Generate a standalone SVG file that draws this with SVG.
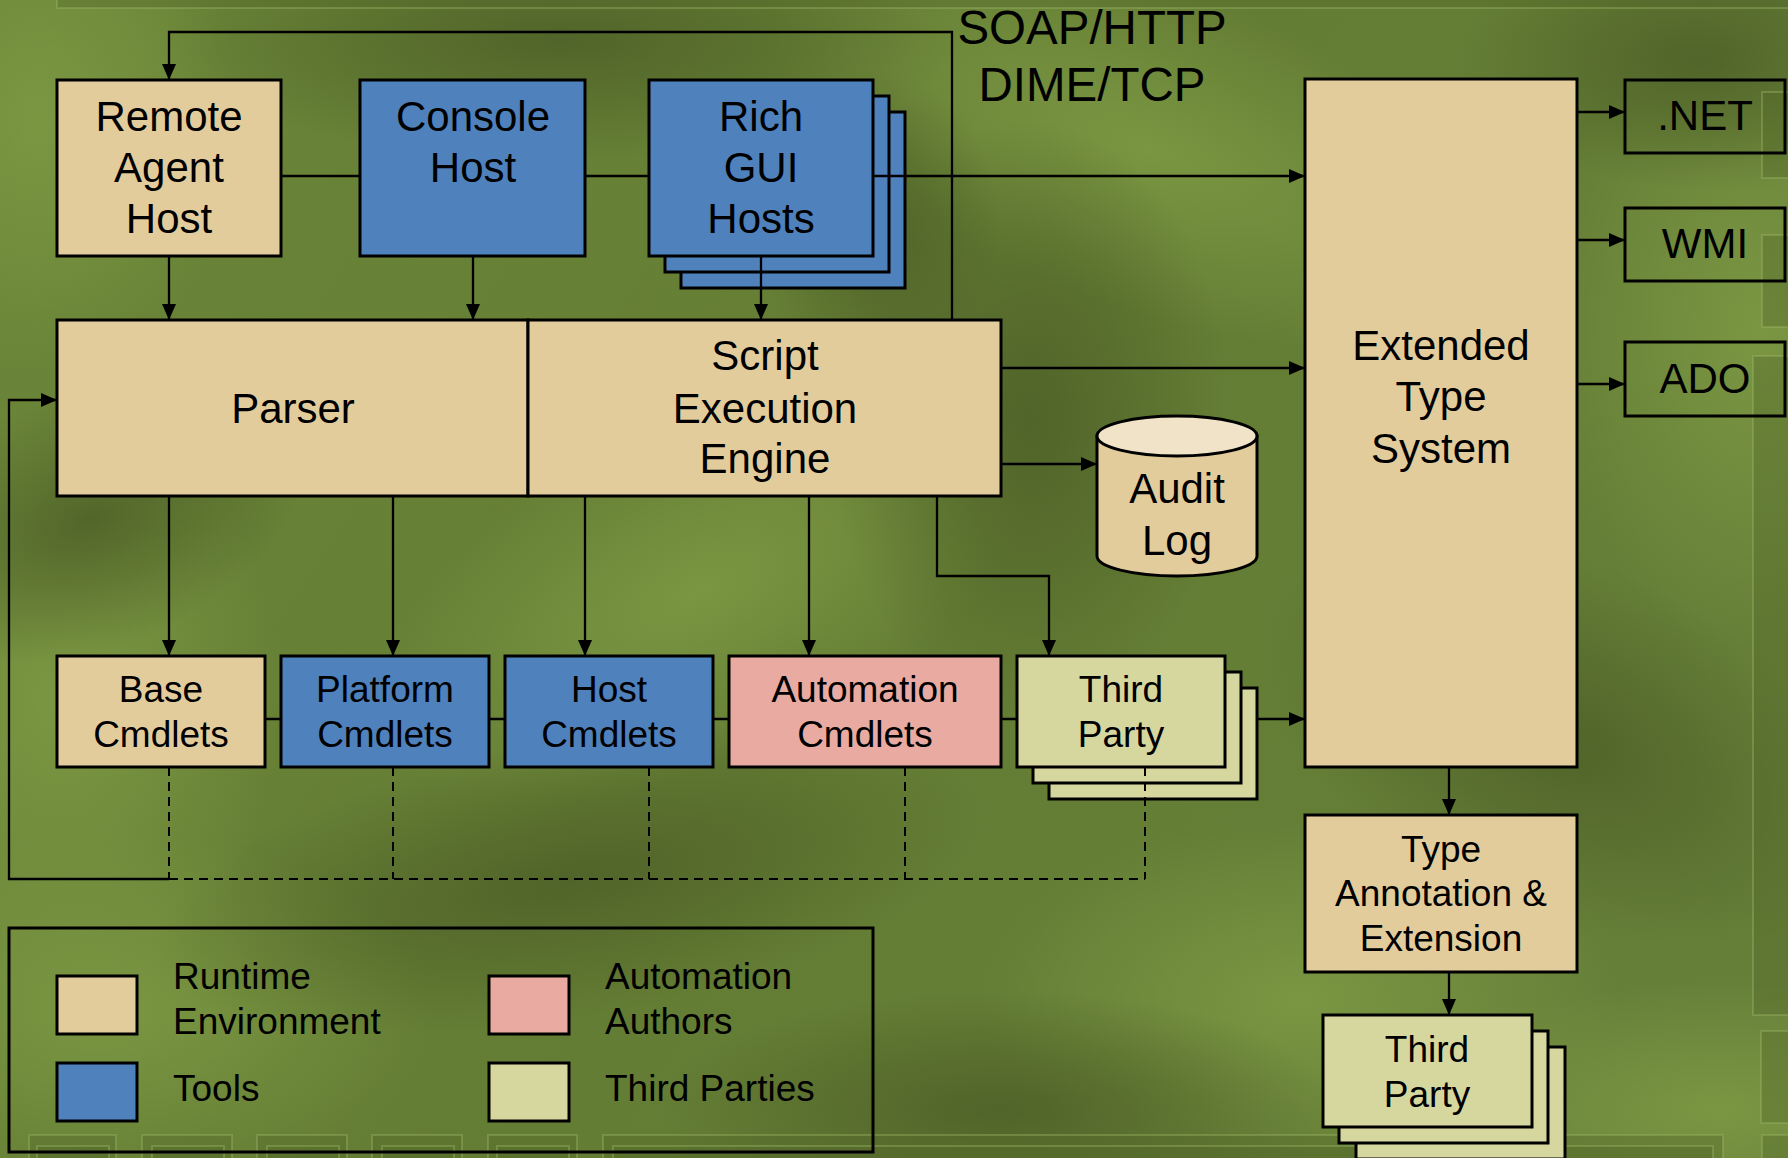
<svg xmlns="http://www.w3.org/2000/svg" width="1788" height="1158" viewBox="0 0 1788 1158">
<defs>
<style>
.bx{stroke:#000;stroke-width:3}
.tan{fill:#E3CC9C}
.blue{fill:#4F81BD}
.pink{fill:#E8AAA1}
.tp{fill:#D6D79F}
.ol{fill:none;stroke:#000;stroke-width:3}
.t42{font-family:"Liberation Sans",Arial,sans-serif;font-size:42px;text-anchor:middle;fill:#000}
.t37{font-family:"Liberation Sans",Arial,sans-serif;font-size:37px;text-anchor:middle;fill:#000}
.l37{font-family:"Liberation Sans",Arial,sans-serif;font-size:37px;fill:#000}
.t47{font-family:"Liberation Sans",Arial,sans-serif;font-size:47.5px;text-anchor:middle;fill:#000}
.ln{fill:none;stroke:#000;stroke-width:2.3}
.dsh{fill:none;stroke:#000;stroke-width:2;stroke-dasharray:9 6}
.deco{fill:#55692b;fill-opacity:0.4;stroke:#9bb565;stroke-opacity:0.4;stroke-width:2}
</style>
<linearGradient id="base" gradientUnits="userSpaceOnUse" x1="0" y1="0" x2="1788" y2="1158">
<stop offset="0" stop-color="#6A8538"/>
<stop offset="0.5" stop-color="#647D34"/>
<stop offset="1" stop-color="#66803A"/>
</linearGradient>
<radialGradient id="lg"><stop offset="0" stop-color="#7E9A44" stop-opacity="0.85"/><stop offset="0.5" stop-color="#7E9A44" stop-opacity="0.45"/><stop offset="1" stop-color="#7E9A44" stop-opacity="0"/></radialGradient>
<radialGradient id="dg"><stop offset="0" stop-color="#4D5F27" stop-opacity="0.85"/><stop offset="0.5" stop-color="#4D5F27" stop-opacity="0.45"/><stop offset="1" stop-color="#4D5F27" stop-opacity="0"/></radialGradient>
<marker id="ah" markerUnits="userSpaceOnUse" markerWidth="16" markerHeight="14" refX="16" refY="7" orient="auto"><path d="M0,0 L16,7 L0,14 Z" fill="#000"/></marker>
</defs>

<g id="background">
<rect x="0" y="0" width="1788" height="1158" fill="url(#base)"/>
<ellipse cx="60" cy="700" rx="220" ry="320" fill="url(#lg)"/>
<ellipse cx="700" cy="590" rx="360" ry="170" fill="url(#lg)" transform="rotate(-25 700 590)"/>
<ellipse cx="1150" cy="150" rx="400" ry="160" fill="url(#lg)" transform="rotate(20 1150 150)"/>
<ellipse cx="1300" cy="1000" rx="320" ry="180" fill="url(#lg)"/>
<ellipse cx="1760" cy="330" rx="220" ry="320" fill="url(#lg)"/>
<ellipse cx="110" cy="1010" rx="320" ry="180" fill="url(#lg)"/>
<ellipse cx="1720" cy="1110" rx="320" ry="130" fill="url(#lg)"/>
<ellipse cx="40" cy="120" rx="200" ry="260" fill="url(#lg)"/>
<ellipse cx="560" cy="40" rx="400" ry="120" fill="url(#dg)"/>
<ellipse cx="90" cy="520" rx="220" ry="130" fill="url(#dg)" transform="rotate(-20 90 520)"/>
<ellipse cx="1030" cy="420" rx="200" ry="300" fill="url(#dg)"/>
<ellipse cx="570" cy="880" rx="420" ry="140" fill="url(#dg)" transform="rotate(-10 570 880)"/>
<ellipse cx="1000" cy="1110" rx="340" ry="120" fill="url(#dg)"/>
<ellipse cx="1700" cy="60" rx="240" ry="130" fill="url(#dg)"/>
<ellipse cx="1560" cy="740" rx="320" ry="180" fill="url(#dg)" transform="rotate(25 1560 740)"/>
<ellipse cx="880" cy="230" rx="120" ry="160" fill="url(#dg)"/>
<rect class="deco" x="57" y="-4" width="1740" height="12"/>
<rect class="deco" x="29" y="1135" width="87" height="30"/>
<rect class="deco" x="37" y="1146" width="72" height="20"/>
<rect class="deco" x="142" y="1135" width="90" height="30"/>
<rect class="deco" x="152" y="1146" width="72" height="20"/>
<rect class="deco" x="257" y="1135" width="90" height="30"/>
<rect class="deco" x="267" y="1146" width="72" height="20"/>
<rect class="deco" x="372" y="1135" width="90" height="30"/>
<rect class="deco" x="382" y="1146" width="72" height="20"/>
<rect class="deco" x="488" y="1135" width="89" height="30"/>
<rect class="deco" x="497" y="1146" width="72" height="20"/>
<rect class="deco" x="603" y="1135" width="1120" height="30"/>
<rect class="deco" x="613" y="1146" width="1100" height="20"/>
<rect class="deco" x="1762" y="1135" width="40" height="30"/>
<rect class="deco" x="1762" y="92" width="40" height="86"/>
<rect class="deco" x="1762" y="235" width="40" height="92"/>
<rect class="deco" x="1753" y="356" width="50" height="659"/>
<rect class="deco" x="1761" y="1031" width="40" height="92"/>
</g>

<g id="remote-agent-host">
<rect class="bx tan" x="57" y="80" width="224" height="176"/>
<text class="t42" x="169" y="131">Remote</text>
<text class="t42" x="169" y="182">Agent</text>
<text class="t42" x="169" y="233">Host</text>
</g>
<g id="console-host">
<rect class="bx blue" x="360" y="80" width="225" height="176"/>
<text class="t42" x="473" y="131">Console</text>
<text class="t42" x="473" y="182">Host</text>
</g>
<g id="rich-gui-hosts">
<rect class="bx blue" x="681" y="112" width="224" height="176"/>
<rect class="bx blue" x="665" y="96" width="224" height="176"/>
<rect class="bx blue" x="649" y="80" width="224" height="176"/>
<text class="t42" x="761" y="131">Rich</text>
<text class="t42" x="761" y="182">GUI</text>
<text class="t42" x="761" y="233">Hosts</text>
</g>
<g id="parser">
<rect class="bx tan" x="57" y="320" width="471" height="176"/>
<text class="t42" x="293" y="423">Parser</text>
</g>
<g id="script-execution-engine">
<rect class="bx tan" x="528" y="320" width="473" height="176"/>
<text class="t42" x="765" y="370">Script</text>
<text class="t42" x="765" y="423">Execution</text>
<text class="t42" x="765" y="473">Engine</text>
</g>
<g id="audit-log">
<path class="bx tan" d="M1097,436 V556 A80,20 0 0 0 1257,556 V436 Z"/>
<ellipse cx="1177" cy="436" rx="80" ry="20" fill="#F0E3C7" stroke="#000" stroke-width="3"/>
<text class="t42" x="1177" y="503">Audit</text>
<text class="t42" x="1177" y="555">Log</text>
</g>
<g id="extended-type-system">
<rect class="bx tan" x="1305" y="79" width="272" height="688"/>
<text class="t42" x="1441" y="360">Extended</text>
<text class="t42" x="1441" y="411">Type</text>
<text class="t42" x="1441" y="463">System</text>
</g>
<g id="dotnet">
<rect class="ol" x="1625" y="80" width="160" height="73"/>
<text class="t42" x="1705" y="130">.NET</text>
</g>
<g id="wmi">
<rect class="ol" x="1625" y="208" width="160" height="73"/>
<text class="t42" x="1705" y="258">WMI</text>
</g>
<g id="ado">
<rect class="ol" x="1625" y="342" width="160" height="74"/>
<text class="t42" x="1705" y="393">ADO</text>
</g>
<g id="base-cmdlets">
<rect class="bx tan" x="57" y="656" width="208" height="111"/>
<text class="t37" x="161" y="702">Base</text>
<text class="t37" x="161" y="747">Cmdlets</text>
</g>
<g id="platform-cmdlets">
<rect class="bx blue" x="281" y="656" width="208" height="111"/>
<text class="t37" x="385" y="702">Platform</text>
<text class="t37" x="385" y="747">Cmdlets</text>
</g>
<g id="host-cmdlets">
<rect class="bx blue" x="505" y="656" width="208" height="111"/>
<text class="t37" x="609" y="702">Host</text>
<text class="t37" x="609" y="747">Cmdlets</text>
</g>
<g id="automation-cmdlets">
<rect class="bx pink" x="729" y="656" width="272" height="111"/>
<text class="t37" x="865" y="702">Automation</text>
<text class="t37" x="865" y="747">Cmdlets</text>
</g>
<g id="third-party-cmdlets">
<rect class="bx tp" x="1049" y="688" width="208" height="111"/>
<rect class="bx tp" x="1033" y="672" width="208" height="111"/>
<rect class="bx tp" x="1017" y="656" width="208" height="111"/>
<text class="t37" x="1121" y="702">Third</text>
<text class="t37" x="1121" y="747">Party</text>
</g>
<g id="type-annotation-extension">
<rect class="bx tan" x="1305" y="815" width="272" height="157"/>
<text class="t37" x="1441" y="862">Type</text>
<text class="t37" x="1441" y="906">Annotation &amp;</text>
<text class="t37" x="1441" y="951">Extension</text>
</g>
<g id="third-party-types">
<rect class="bx tp" x="1356" y="1047" width="209" height="112"/>
<rect class="bx tp" x="1339" y="1031" width="209" height="112"/>
<rect class="bx tp" x="1323" y="1015" width="209" height="112"/>
<text class="t37" x="1427" y="1062">Third</text>
<text class="t37" x="1427" y="1107">Party</text>
</g>
<g id="legend">
<rect class="ol" x="9" y="928" width="864" height="224"/>
<rect class="bx tan" x="57" y="976" width="80" height="58"/>
<rect class="bx blue" x="57" y="1063" width="80" height="58"/>
<rect class="bx pink" x="489" y="976" width="80" height="58"/>
<rect class="bx tp" x="489" y="1063" width="80" height="58"/>
<text class="l37" x="173" y="989">Runtime</text>
<text class="l37" x="173" y="1034">Environment</text>
<text class="l37" x="173" y="1101">Tools</text>
<text class="l37" x="605" y="989">Automation</text>
<text class="l37" x="605" y="1034">Authors</text>
<text class="l37" x="605" y="1101">Third Parties</text>
</g>

<g id="connectors">
<path class="ln" d="M952,320 V32 H169 V80" marker-end="url(#ah)"/>
<path class="ln" d="M169,256 V320" marker-end="url(#ah)"/>
<path class="ln" d="M473,256 V320" marker-end="url(#ah)"/>
<path class="ln" d="M761,256 V320" marker-end="url(#ah)"/>
<path class="ln" d="M281,176 H360 M585,176 H649"/>
<path class="ln" d="M873,176 H1305" marker-end="url(#ah)"/>
<path class="ln" d="M1001,368 H1305" marker-end="url(#ah)"/>
<path class="ln" d="M1001,464 H1097" marker-end="url(#ah)"/>
<path class="ln" d="M169,496 V656" marker-end="url(#ah)"/>
<path class="ln" d="M393,496 V656" marker-end="url(#ah)"/>
<path class="ln" d="M585,496 V656" marker-end="url(#ah)"/>
<path class="ln" d="M809,496 V656" marker-end="url(#ah)"/>
<path class="ln" d="M937,496 V576 H1049 V656" marker-end="url(#ah)"/>
<path class="ln" d="M265,719 H281 M489,719 H505 M713,719 H729 M1001,719 H1017"/>
<path class="ln" d="M1257,719 H1305" marker-end="url(#ah)"/>
<path class="dsh" d="M169,767 V879 M393,767 V879 M649,767 V879 M905,767 V879 M1145,767 V879 M169,879 H1145"/>
<path class="ln" d="M169,879 H9 V400 H57" marker-end="url(#ah)"/>
<path class="ln" d="M1577,112 H1625" marker-end="url(#ah)"/>
<path class="ln" d="M1577,240 H1625" marker-end="url(#ah)"/>
<path class="ln" d="M1577,384 H1625" marker-end="url(#ah)"/>
<path class="ln" d="M1449,767 V815" marker-end="url(#ah)"/>
<path class="ln" d="M1449,972 V1015" marker-end="url(#ah)"/>
<text class="t47" x="1092" y="44">SOAP/HTTP</text>
<text class="t47" x="1092" y="101">DIME/TCP</text>
</g>
</svg>
